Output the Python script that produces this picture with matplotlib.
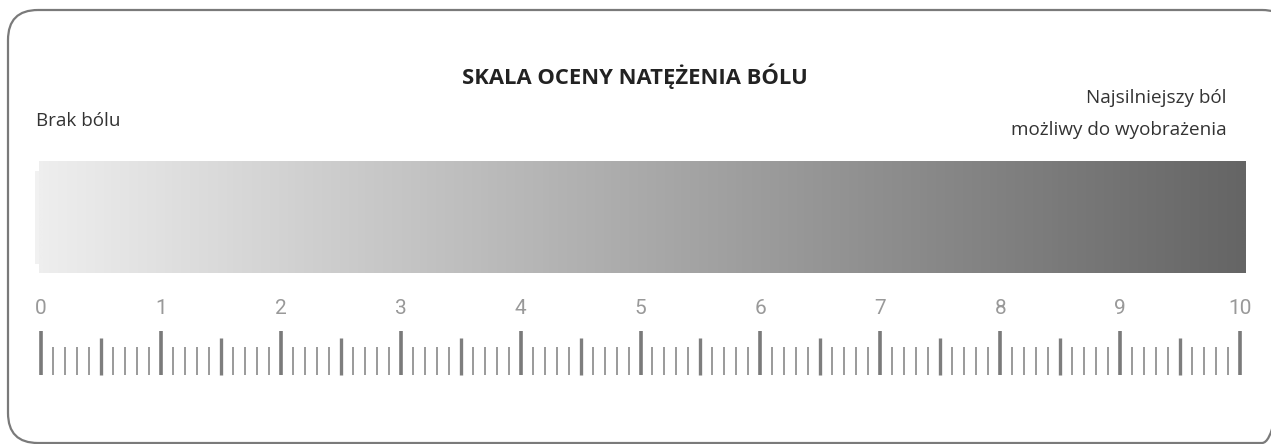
import numpy as np
import matplotlib
matplotlib.use("Agg")
import matplotlib.pyplot as plt
from matplotlib.patches import FancyBboxPatch, Rectangle
from matplotlib.colors import LinearSegmentedColormap

# ---- data ----
title = "SKALA OCENY NATĘŻENIA BÓLU"
left_label = "Brak bólu"
right_label = "Najsilniejszy ból\nmożliwy do wyobrażenia"
scale_labels = [str(v) for v in range(0, 11)]
scale_values = list(range(0, 11))
scale_min, scale_max = 0, 10
minor_step = 0.1

W, H = 1271, 444
fig = plt.figure(figsize=(W / 100, H / 100), dpi=100)
fig.patch.set_facecolor("white")

axp = fig.add_axes([0, 0, 1, 1])
axp.set_xlim(0, W)
axp.set_ylim(H, 0)
axp.axis("off")

frame = FancyBboxPatch((8, 10), 1284, 433, boxstyle="round,pad=0,rounding_size=30",
                       fill=False, edgecolor="#7a7a7a", linewidth=1.6)
axp.add_patch(frame)

axp.text(635, 76, title, ha="center", va="center", fontsize=15.8,
         fontweight="bold", family="Open Sans", color="#222222")
axp.text(36, 121, left_label, ha="left", va="center", fontsize=13.6,
         family="Open Sans", color="#333333")
axp.text(1227, 114, right_label, ha="right", va="center", fontsize=13.6,
         family="Open Sans", color="#333333", linespacing=1.95)

x0px, x10px = 41, 1240
upx = (x10px - x0px) / (scale_max - scale_min)
ax = fig.add_axes([0, 0, 1, 1])
ax.axis("off")
ax.patch.set_alpha(0)

cmap = LinearSegmentedColormap.from_list("g", ["#eeeeee", "#656565"])
grad = np.linspace(0, 1, 512).reshape(1, -1)
bx0 = scale_min + (39 - x0px) / upx
bx1 = scale_min + (1246 - x0px) / upx
ax.imshow(grad, cmap=cmap, aspect="auto", extent=(bx0, bx1, 273, 161),
          interpolation="bilinear")
ax.add_patch(Rectangle((scale_min + (35 - x0px) / upx, 171), 4 / upx, 93,
                       facecolor="#f1f1f1", edgecolor="none"))
ax.set_xlim(scale_min - x0px / upx, scale_min + (W - x0px) / upx)
ax.set_ylim(H, 0)

n = int(round((scale_max - scale_min) / minor_step))
ticks = scale_min + np.arange(n + 1) * minor_step
major = [t for i, t in enumerate(ticks) if i % 10 == 0]
half = [t for i, t in enumerate(ticks) if i % 10 == 5]
minor = [t for i, t in enumerate(ticks) if i % 5 != 0]
ax.vlines(major, 331, 375, colors="#7a7a7a", linewidth=2.6)
ax.vlines(half, 338, 375, colors="#7e7e7e", linewidth=2.4)
ax.vlines(minor, 347, 375, colors="#9a9a9a", linewidth=1.4)

for v, lab in zip(scale_values, scale_labels):
    ax.text(v, 308, lab, ha="center", va="center", fontsize=15,
            family="Roboto", fontweight="normal", stretch="condensed",
            color="#999999")

fig.savefig("out.png", dpi=100, facecolor="white")
